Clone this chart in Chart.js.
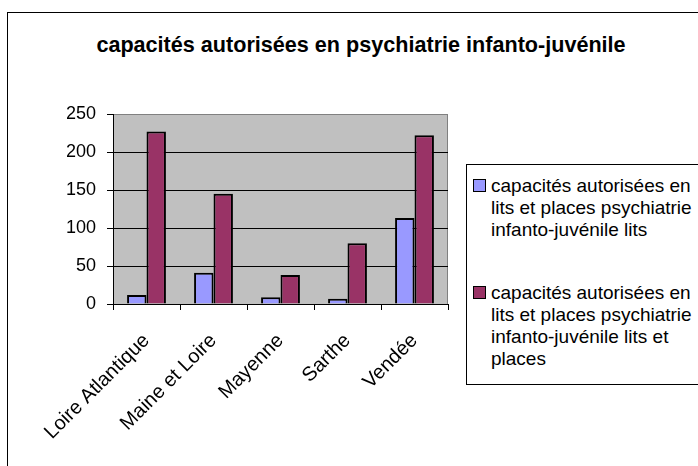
<!DOCTYPE html>
<html>
<head>
<meta charset="utf-8">
<script src="https://cdn.jsdelivr.net/npm/chart.js@4/dist/chart.umd.min.js"></script>
<style>
  html, body { margin: 0; padding: 0; background: #fff; overflow: hidden; }
  #cadre { position: absolute; left: 7px; top: 12px; width: 720px; height: 480px; border: 1px solid #000; }
  #titre { position: absolute; left: 0; width: 722px; top: 32px; text-align: center;
           font: bold 21.6px "Liberation Sans", Arial, sans-serif; color: #000; }
  #zone { position: absolute; left: 0; top: 0; width: 698px; height: 466px; }
  #legende { position: absolute; left: 466px; top: 164px; width: 260px; height: 219px; border: 1px solid #000;
             background: #fff; font: 19px "Liberation Sans", Arial, sans-serif; line-height: 22px; color: #000; }
  .item { position: absolute; left: 24px; width: 210px; }
  .carre { position: absolute; left: -18px; top: 4px; width: 11px; height: 11px; border: 1px solid #000; }
</style>
</head>
<body>
<div id="cadre"></div>
<div id="titre">capacités autorisées en psychiatrie infanto-juvénile</div>
<div id="zone"><canvas id="graphique" width="698" height="466"></canvas></div>
<div id="legende"></div>
<script>
const departements = ['Loire Atlantique', 'Maine et Loire', 'Mayenne', 'Sarthe', 'Vendée'];
const capacitesLits = [12, 41, 9, 7, 113];
const capacitesLitsPlaces = [227, 145, 38, 80, 222];
const nomsSeries = [
    'capacités autorisées en lits et places psychiatrie infanto-juvénile lits',
    'capacités autorisées en lits et places psychiatrie infanto-juvénile lits et places'
];
const couleurs = ['#9999FF', '#993366'];
const ticksY = [0, 50, 100, 150, 200, 250];

// fond gris de la zone de tracé + bord droit
const fondGris = {
    id: 'fondGris',
    beforeDraw(chart) {
        const a = chart.chartArea;
        const ctx = chart.ctx;
        ctx.save();
        ctx.fillStyle = '#C0C0C0';
        ctx.fillRect(a.left, a.top, a.right - a.left, a.bottom - a.top);
        ctx.strokeStyle = '#808080';
        ctx.lineWidth = 1;
        ctx.beginPath();
        ctx.moveTo(a.right - 0.5, a.top);
        ctx.lineTo(a.right - 0.5, a.bottom);
        ctx.stroke();
        ctx.restore();
    }
};

const ctx = document.getElementById('graphique');
const monGraphique = new Chart(ctx.getContext('2d'), {
    type: 'bar',
    data: {
        labels: departements,
        datasets: [
            { label: nomsSeries[0], data: capacitesLits, backgroundColor: couleurs[0], borderColor: '#000', borderWidth: 2 },
            { label: nomsSeries[1], data: capacitesLitsPlaces, backgroundColor: couleurs[1], borderColor: '#000', borderWidth: 2 }
        ]
    },
    options: {
        responsive: false,
        animation: false,
        layout: { padding: { left: 67, right: 250, top: 114, bottom: 12 } },
        datasets: { bar: { barPercentage: 1, categoryPercentage: 0.58 } },
        plugins: {
            legend: { display: false },
            title: { display: false },
            tooltip: { enabled: false }
        },
        scales: {
            x: {
                afterFit(scale) { scale.height = 150; },
                grid: { display: true, drawOnChartArea: false, drawTicks: true, tickLength: 6, color: '#000', offset: true },
                border: { color: '#000', width: 1 },
                ticks: {
                    minRotation: 45, maxRotation: 45, padding: 19, color: '#000',
                    font: { family: '"Liberation Sans", Arial, sans-serif', size: 20 }
                }
            },
            y: {
                min: 0, max: 250,
                afterFit(scale) { scale.width = 46; },
                afterBuildTicks(scale) { scale.ticks = ticksY.map(v => ({ value: v })); },
                grid: {
                    color: c => (c.tick && c.tick.value === 250) ? '#808080' : '#000',
                    tickColor: '#000', tickLength: 6, lineWidth: 1
                },
                border: { color: '#000', width: 1 },
                ticks: {
                    padding: 11, color: '#000',
                    font: { family: '"Liberation Sans", Arial, sans-serif', size: 18 }
                }
            }
        }
    },
    plugins: [fondGris]
});

// légende en HTML (texte sur plusieurs lignes)
const legende = document.getElementById('legende');
const positions = [10, 117];
nomsSeries.forEach((nom, i) => {
    const d = document.createElement('div');
    d.className = 'item';
    d.style.top = positions[i] + 'px';
    d.innerHTML = '<span class="carre" style="background:' + couleurs[i] + '"></span>' + nom;
    legende.appendChild(d);
});
</script>
</body>
</html>
